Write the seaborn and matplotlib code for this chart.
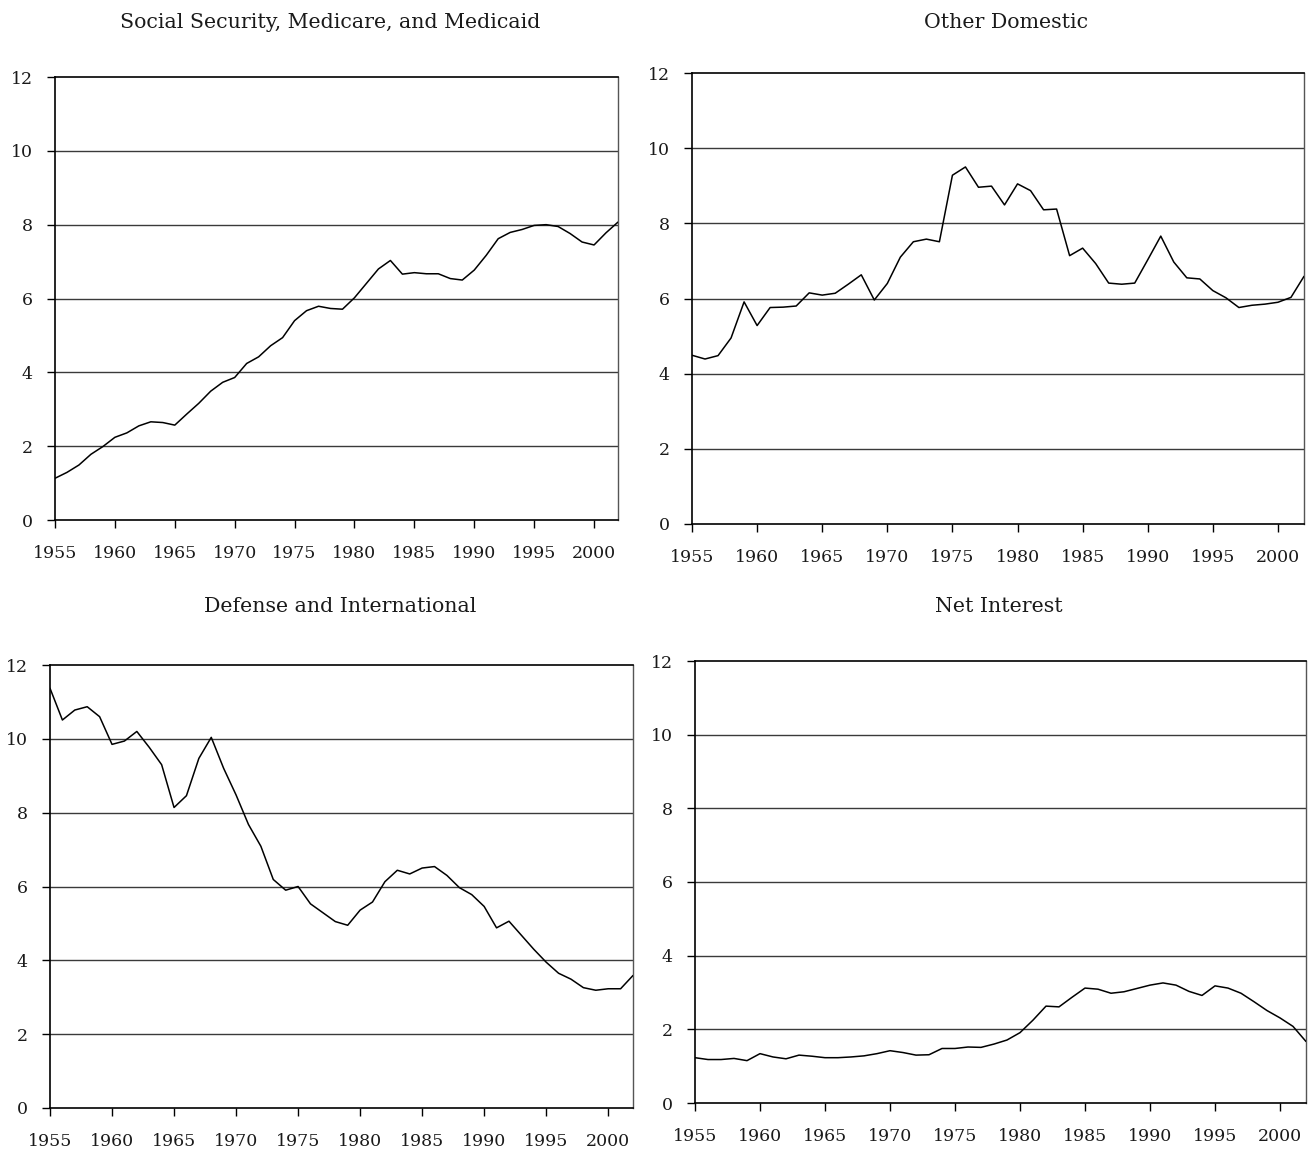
import numpy as np
import pandas as pd
import seaborn as sns
import matplotlib
matplotlib.use("Agg")
import matplotlib.pyplot as plt

# share of GDP, 1955-2002
years = list(range(1955, 2003))

ss_medicare = [1.13, 1.29, 1.49, 1.78, 1.99, 2.24, 2.36, 2.55, 2.66, 2.64,
               2.57, 2.87, 3.16, 3.49, 3.73, 3.86, 4.24, 4.42, 4.72, 4.94,
               5.40, 5.67, 5.79, 5.73, 5.71, 6.02, 6.41, 6.80, 7.03, 6.66,
               6.70, 6.67, 6.67, 6.54, 6.50, 6.77, 7.17, 7.62, 7.79, 7.87,
               7.98, 8.00, 7.95, 7.76, 7.53, 7.45, 7.78, 8.07]

other_domestic = [4.49, 4.39, 4.48, 4.95, 5.91, 5.28, 5.76, 5.77, 5.80, 6.15,
                  6.09, 6.14, 6.38, 6.63, 5.96, 6.40, 7.10, 7.51, 7.58, 7.51,
                  9.28, 9.50, 8.96, 8.99, 8.49, 9.05, 8.87, 8.36, 8.38, 7.14,
                  7.34, 6.93, 6.41, 6.38, 6.41, 7.03, 7.66, 6.97, 6.55, 6.52,
                  6.21, 6.02, 5.76, 5.82, 5.85, 5.90, 6.03, 6.59]

defense = [11.37, 10.51, 10.78, 10.87, 10.60, 9.85, 9.94, 10.20, 9.77, 9.30,
           8.14, 8.46, 9.47, 10.04, 9.20, 8.48, 7.68, 7.09, 6.19, 5.90,
           6.00, 5.53, 5.29, 5.05, 4.95, 5.36, 5.58, 6.13, 6.44, 6.34,
           6.50, 6.54, 6.30, 5.97, 5.78, 5.46, 4.88, 5.06, 4.68, 4.30,
           3.95, 3.65, 3.49, 3.26, 3.19, 3.23, 3.23, 3.59]

net_interest = [1.23, 1.18, 1.18, 1.21, 1.15, 1.34, 1.25, 1.20, 1.30, 1.27,
                1.23, 1.23, 1.25, 1.28, 1.34, 1.42, 1.37, 1.30, 1.31, 1.48,
                1.48, 1.52, 1.51, 1.60, 1.71, 1.91, 2.25, 2.63, 2.61, 2.87,
                3.12, 3.09, 2.98, 3.02, 3.11, 3.20, 3.26, 3.20, 3.03, 2.92,
                3.18, 3.12, 2.98, 2.75, 2.51, 2.31, 2.08, 1.67]

titles = ["Social Security, Medicare, and Medicaid", "Other Domestic",
          "Defense and International", "Net Interest"]
x_ticks = [1955, 1960, 1965, 1970, 1975, 1980, 1985, 1990, 1995, 2000]
y_ticks = [0, 2, 4, 6, 8, 10, 12]

sns.set_theme(style="white")
plt.rcParams["font.family"] = ["DejaVu Serif", "Liberation Serif"]

W, H = 1316, 1155
fig = plt.figure(figsize=(W / 100, H / 100), dpi=100)

# axes boxes in pixels: left, top, right, bottom
boxes = [(55, 77, 618, 520), (692, 73, 1304, 524),
         (50, 665, 633, 1108), (695, 661, 1306, 1103)]
title_pos = [(330, 22), (1006, 22), (340, 606), (999, 606)]
series = [ss_medicare, other_domestic, defense, net_interest]

for (l, t, r, b), vals, title, (tx, ty) in zip(boxes, series, titles, title_pos):
    ax = fig.add_axes([l / W, 1 - b / H, (r - l) / W, (b - t) / H])
    df = pd.DataFrame({"year": years, "pct": vals})
    for g in y_ticks[1:-1]:
        ax.axhline(g, color="#3a3a3a", lw=1.0, zorder=1)
    sns.lineplot(data=df, x="year", y="pct", ax=ax, color="black",
                 lw=1.1, zorder=3)
    ax.set_xlim(1955, 2002)
    ax.set_ylim(0, 12)
    ax.set_xticks(x_ticks)
    ax.set_yticks(y_ticks)
    ax.set_xlabel("")
    ax.set_ylabel("")
    ax.tick_params(axis="both", direction="out", length=6, width=1,
                   color="black", labelsize=12.5, labelcolor="#1a1a1a",
                   bottom=True, left=True)
    ax.tick_params(axis="x", pad=12)
    ax.tick_params(axis="y", pad=10)
    for side in ["left", "bottom", "top"]:
        ax.spines[side].set_color("black")
        ax.spines[side].set_linewidth(1.2)
    ax.spines["right"].set_color("#555555")
    ax.spines["right"].set_linewidth(1.0)
    fig.text(tx / W, 1 - ty / H, title, ha="center", va="center",
             fontsize=14.8, color="#1a1a1a")

fig.savefig("out.png", dpi=100)
